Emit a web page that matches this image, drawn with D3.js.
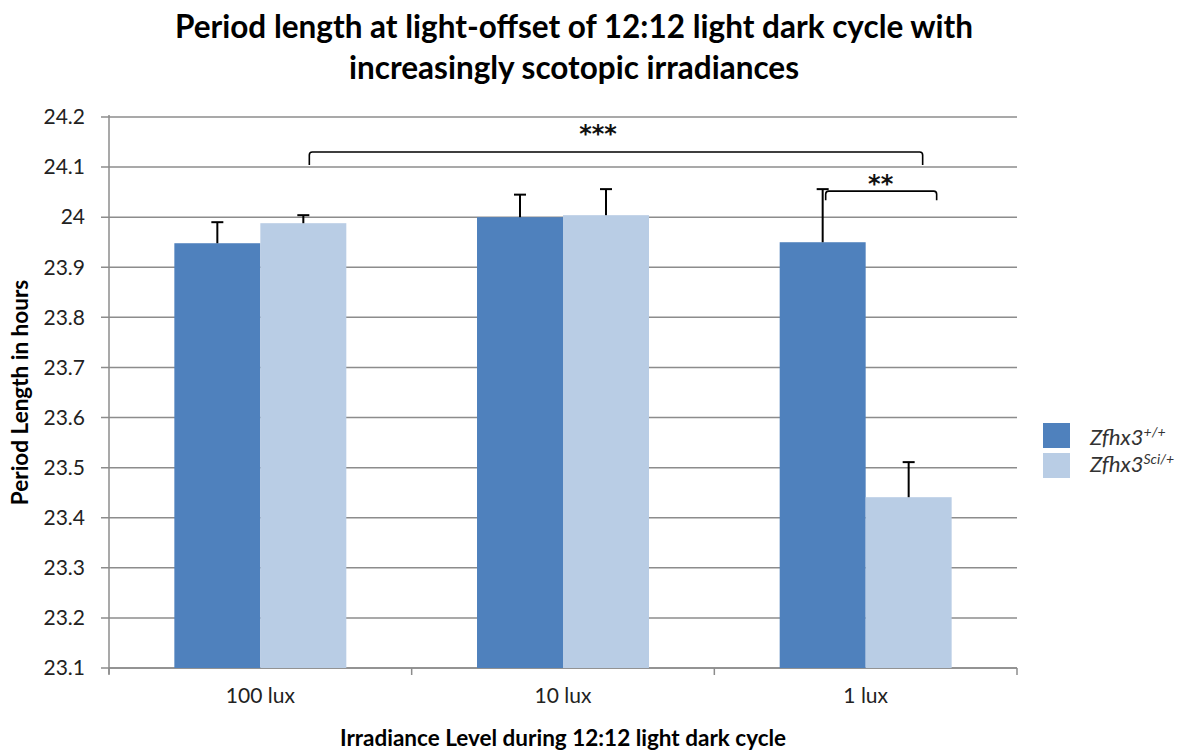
<!DOCTYPE html>
<html><head><meta charset="utf-8">
<script src="https://cdn.jsdelivr.net/npm/d3@7"></script>
<style>body{margin:0;background:#fff}svg{display:block}text{font-family:Lato,"Open Sans",sans-serif}</style>
</head><body><svg id="c" width="1181" height="751"></svg>
<script>
const categories = ["100 lux", "10 lux", "1 lux"];
const seriesNames = ["Zfhx3", "Zfhx3"];
const seriesSup = ["+/+", "Sci/+"];
const wildType = [23.948, 24.0, 23.95];
const wildTypeErr = [0.042, 0.045, 0.106];
const sci = [23.988, 24.004, 23.441];
const sciErr = [0.016, 0.052, 0.07];
const yTicks = [23.1, 23.2, 23.3, 23.4, 23.5, 23.6, 23.7, 23.8, 23.9, 24.0, 24.1, 24.2];
const colors = ["#4F81BD", "#B9CDE5"];

const svg = d3.select("#c");
const L = 109, R = 1017, T = 117, B = 668;
const FF = "Lato, 'Open Sans', sans-serif";
const x = d3.scaleBand().domain(categories).range([L, R]).paddingInner(0).paddingOuter(0);
const x1 = d3.scaleBand().domain([0, 1]).range([0, x.bandwidth()]).paddingOuter(0.76).paddingInner(0);
const y = d3.scaleLinear().domain([23.1, 24.2]).range([B, T]);

// gridlines
svg.append("g").selectAll("line").data(yTicks).join("line")
  .attr("x1", L - 8).attr("x2", R).attr("y1", d => y(d)).attr("y2", d => y(d))
  .attr("stroke", "#8c8c8c").attr("stroke-width", 1.5);

// y axis
const ya = svg.append("g").attr("transform", `translate(${L},0)`)
  .call(d3.axisLeft(y).tickValues(yTicks).tickSize(0).tickPadding(24).tickFormat(d => d3.format("")(+d.toFixed(1))));
ya.select(".domain").attr("stroke", "#8c8c8c").attr("stroke-width", 1.5).attr("d", `M0,${T-2}V${B+6}`);
ya.selectAll("text").attr("font-size", 21).attr("fill", "#222").style("font-family", FF);

// x axis
const xa = svg.append("g").attr("transform", `translate(0,${B})`)
  .call(d3.axisBottom(x).tickSize(0).tickPadding(20));
xa.select(".domain").attr("stroke", "#8c8c8c").attr("stroke-width", 1.5).attr("d", `M${L},0H${R}`);
xa.selectAll("text").attr("font-size", 21).attr("fill", "#222").style("font-family", FF);
svg.append("g").selectAll("line").data(categories.map(c => x(c)).concat([R])).join("line")
  .attr("x1", d => d).attr("x2", d => d).attr("y1", B).attr("y2", B + 7)
  .attr("stroke", "#8c8c8c").attr("stroke-width", 1.5);

// bars
const series = [wildType, sci];
const errs = [wildTypeErr, sciErr];
const cx = (si, i) => x(categories[i]) + x1(si) + x1.bandwidth() / 2;
series.forEach((vals, si) => {
  const g = svg.append("g");
  g.selectAll("rect").data(vals).join("rect")
    .attr("x", (d, i) => x(categories[i]) + x1(si))
    .attr("width", x1.bandwidth())
    .attr("y", d => y(d)).attr("height", d => B - y(d))
    .attr("fill", colors[si]);
  const eg = svg.append("g").attr("stroke", "#000").attr("stroke-width", 2);
  vals.forEach((v, i) => {
    const c = cx(si, i);
    eg.append("line").attr("x1", c).attr("x2", c).attr("y1", y(v)).attr("y2", y(v + errs[si][i]));
    eg.append("line").attr("x1", c - 6).attr("x2", c + 6).attr("y1", y(v + errs[si][i])).attr("y2", y(v + errs[si][i]));
  });
});

// significance brackets
function bracket(x0, x1b, yTop, yEnd, label, lx, ly) {
  const r = 3;
  svg.append("path")
    .attr("d", `M${x0},${yEnd}V${yTop + r}Q${x0},${yTop} ${x0 + r},${yTop}H${x1b - r}Q${x1b},${yTop} ${x1b},${yTop + r}V${yEnd}`)
    .attr("fill", "none").attr("stroke", "#000").attr("stroke-width", 1.6);
  svg.append("text").attr("x", lx).attr("y", ly).attr("text-anchor", "middle")
    .attr("font-size", 24).attr("font-weight", "bold").attr("fill", "#111").style("font-family", "'DejaVu Sans', sans-serif").text(label);
}
bracket(cx(1, 0) + 6, cx(1, 2) + 14, y(24.13), y(24.104), "***", x(categories[1]) + x.bandwidth() / 2 + 35, y(24.15));
bracket(cx(0, 2) + 3, cx(1, 2) + 28, y(24.052), y(24.034), "**", cx(1, 2) - 28, y(24.05));

// legend
const lg = svg.append("g");
[0, 1].forEach(i => {
  lg.append("rect").attr("x", 1043).attr("y", 423 + i * 30).attr("width", 27).attr("height", 25).attr("fill", colors[i]);
  const t = lg.append("text").attr("x", 1090).attr("y", 445 + i * 27).attr("font-size", 22).attr("fill", "#333").attr("font-style", "italic");
  t.append("tspan").text(seriesNames[i]);
  t.append("tspan").attr("dy", -8).attr("font-size", 14).text(seriesSup[i]);
});

// titles
svg.append("text").attr("x", 574).attr("y", 38).attr("text-anchor", "middle").attr("font-size", 31.5).attr("font-weight", "bold").attr("fill", "#000")
  .text("Period length at light-offset of 12:12 light dark cycle with");
svg.append("text").attr("x", 574).attr("y", 79).attr("text-anchor", "middle").attr("font-size", 31.5).attr("font-weight", "bold").attr("fill", "#000")
  .text("increasingly scotopic irradiances");
svg.append("text").attr("x", 563).attr("y", 746).attr("text-anchor", "middle").attr("font-size", 22.5).attr("font-weight", "bold").attr("fill", "#000")
  .text("Irradiance Level during 12:12 light dark cycle");
svg.append("text").attr("transform", `translate(28,${(T + B) / 2 - 0}) rotate(-90)`).attr("text-anchor", "middle").attr("font-size", 22.5).attr("font-weight", "bold").attr("fill", "#000")
  .text("Period Length in hours");
</script></body></html>
